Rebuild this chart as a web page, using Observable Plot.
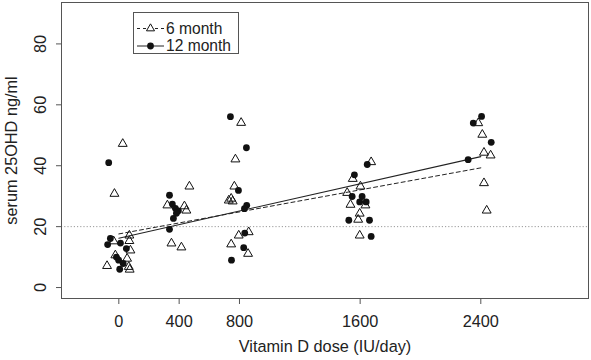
<!DOCTYPE html>
<html>
<head>
<meta charset="utf-8">
<script src="https://cdn.jsdelivr.net/npm/d3@7"></script>
<script src="https://cdn.jsdelivr.net/npm/@observablehq/plot@0.6"></script>
<style>
  html, body { margin: 0; padding: 0; background: #fff; }
  #wrap { position: relative; width: 591px; height: 360px; }
  #legend { position: absolute; left: 0; top: 0; pointer-events: none; }
</style>
</head>
<body>
<div id="wrap"></div>
<script>
// ---- data ----
const xTicks = [0, 400, 800, 1600, 2400];
const yTicks = [0, 20, 40, 60, 80];
const threshold = [20];

// 6 month (open triangles): jittered dose (IU/day) and serum 25OHD (ng/ml)
const sixMonthDose = [26, -29, -78, -34, 70, 70, 77, 55, 66, 72, -23,
  468, 322, 435, 448, 349, 415,
  811, 773, 766, 729, 745, 755, 861, 795, 745, 857,
  1673, 1551, 1602, 1514, 1536, 1635, 1597, 1587, 1597,
  2383, 2410, 2421, 2465, 2421, 2439];
const sixMonthValue = [47.2, 30.8, 7.1, 15.2, 17.1, 15.3, 12.2, 9.5, 6.8, 5.9, 10.6,
  33.2, 27.0, 26.7, 25.3, 14.5, 13.2,
  54.1, 42.1, 33.2, 28.6, 29.2, 28.3, 18.2, 17.1, 14.2, 11.1,
  41.2, 35.7, 33.2, 31.1, 27.2, 27.0, 24.3, 22.3, 17.1,
  54.0, 50.2, 44.3, 43.4, 34.3, 25.3];

// 12 month (filled circles)
const twelveMonthDose = [-67, -56, -74, 11, 50, -16, -1, 29, 6,
  336, 355, 375, 395, 382, 362, 336,
  740, 846, 793, 848, 833, 835, 828, 747,
  1647, 1562, 1547, 1613, 1597, 1640, 1525, 1662, 1673,
  2405, 2350, 2469, 2316];
const twelveMonthValue = [41.0, 16.1, 14.1, 14.6, 12.8, 10.0, 9.0, 7.9, 6.0,
  30.3, 27.4, 26.0, 25.2, 24.4, 22.7, 19.1,
  56.1, 45.9, 31.9, 27.0, 25.9, 17.9, 13.1, 9.0,
  40.4, 37.0, 29.9, 29.9, 28.1, 28.1, 22.1, 22.1, 16.8,
  56.2, 54.0, 47.7, 42.0];

// fitted regression lines (value at dose 0 and 2400)
const fitDose = [0, 2400];
const sixMonthFit = [17.6, 39.3];
const twelveMonthFit = [16.2, 43.0];

const legendLabels = ["6 month", "12 month"];

// ---- build tables ----
const six = sixMonthDose.map((d, i) => ({dose: d, value: sixMonthValue[i]}));
const twelve = twelveMonthDose.map((d, i) => ({dose: d, value: twelveMonthValue[i]}));
const sixFit = fitDose.map((d, i) => ({dose: d, value: sixMonthFit[i]}));
const twelveFit = fitDose.map((d, i) => ({dose: d, value: twelveMonthFit[i]}));

const FONT = "'Liberation Sans', Arial, Helvetica, sans-serif";
const AX = "#555";
const FS = 16.3;

const chart = Plot.plot({
  width: 591,
  height: 360,
  marginLeft: 61,
  marginRight: 3,
  marginTop: 2,
  marginBottom: 62,
  style: {fontFamily: FONT, fontSize: FS + "px", color: "#222", background: "#fff"},
  x: {domain: [-380, 3114], label: null},
  y: {domain: [-3.6, 93.6], label: null},
  marks: [
    Plot.ruleY(threshold, {stroke: "#999", strokeDasharray: "1.2,2", strokeWidth: 1}),
    Plot.line(sixFit, {x: "dose", y: "value", stroke: "#222", strokeWidth: 1, strokeDasharray: "4,3"}),
    Plot.line(twelveFit, {x: "dose", y: "value", stroke: "#222", strokeWidth: 1.1}),
    Plot.dot(six, {x: "dose", y: "value", symbol: "triangle", r: 3.3, stroke: "#111", strokeWidth: 1, fill: "none"}),
    Plot.dot(twelve, {x: "dose", y: "value", r: 3.4, fill: "#111", stroke: "none"}),
    Plot.frame({stroke: AX}),
    Plot.axisX(xTicks, {tickSize: 6, tickPadding: 11, stroke: AX, fontSize: FS, tickFormat: d => String(d), label: null}),
    Plot.axisY(yTicks, {tickSize: 5, stroke: AX, text: null, label: null}),
    Plot.text(yTicks, {y: d => d, text: d => String(d), frameAnchor: "left", dx: -21, rotate: -90, textAnchor: "middle", lineAnchor: "middle", fontSize: FS}),
    Plot.text(["Vitamin D dose (IU/day)"], {text: d => d, frameAnchor: "bottom", dy: 48, textAnchor: "middle", lineAnchor: "middle", fontSize: FS}),
    Plot.text(["serum 25OHD ng/ml"], {text: d => d, frameAnchor: "left", dx: -50, rotate: -90, textAnchor: "middle", lineAnchor: "middle", fontSize: FS})
  ]
});

const wrap = document.getElementById("wrap");
wrap.appendChild(chart);

// ---- legend overlay ----
const ns = "http://www.w3.org/2000/svg";
const leg = document.createElementNS(ns, "svg");
leg.setAttribute("id", "legend");
leg.setAttribute("width", 591);
leg.setAttribute("height", 60);
function el(tag, attrs, parent) {
  const e = document.createElementNS(ns, tag);
  for (const k in attrs) e.setAttribute(k, attrs[k]);
  (parent || leg).appendChild(e);
  return e;
}
const LFS = 15.6;
el("rect", {x: 133.5, y: 12.5, width: 105, height: 41, fill: "#fff", stroke: AX, "stroke-width": 1});
const rowY = [28.5, 46];
// row 1: dashed line + triangle
el("line", {x1: 137, x2: 164, y1: rowY[0], y2: rowY[0], stroke: "#222", "stroke-dasharray": "3,3"});
el("path", {d: d3.symbol(d3.symbolTriangle, Math.PI * 3.0 * 3.0)(), transform: `translate(150.5,${rowY[0]})`, fill: "#fff", stroke: "#111"});
// row 2: solid line + circle
el("line", {x1: 137, x2: 164, y1: rowY[1], y2: rowY[1], stroke: "#222"});
el("circle", {cx: 150.5, cy: rowY[1], r: 3.4, fill: "#111"});
legendLabels.forEach((t, i) => {
  const tx = el("text", {x: 166, y: rowY[i] + 5.3, "font-family": FONT, "font-size": LFS, fill: "#222"});
  tx.textContent = t;
});
wrap.appendChild(leg);
</script>
</body>
</html>
